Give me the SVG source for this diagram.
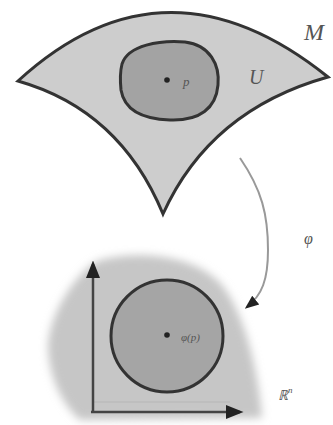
<svg xmlns="http://www.w3.org/2000/svg" width="333" height="425" viewBox="0 0 333 425">
<defs>
<filter id="blur" x="-20%" y="-20%" width="140%" height="140%"><feGaussianBlur stdDeviation="4"/></filter>
<marker id="ah" viewBox="0 0 10 10" refX="8" refY="5" markerWidth="7" markerHeight="7" orient="auto-start-reverse"><path d="M0,1 L10,5 L0,9 Z" fill="#222"/></marker>
</defs>
<style>
.lbl{font-family:"Liberation Serif","DejaVu Serif",serif;font-style:italic;fill:#555}
.edge{fill:none;stroke:#999;stroke-width:2}
.axis{fill:none;stroke:#444;stroke-width:2.5}
</style>
<rect width="333" height="425" fill="#fff"/>
<g id="manifold">
<path d="M18,81 Q165,-54 328,77 Q210,110 163,214 Q120,110 18,81 Z" fill="#cdcdcd" stroke="#333" stroke-width="3" stroke-linejoin="miter"/>
<path d="M122,64 C128,45 160,40 185,42 C210,45 220,65 218,85 C216,108 200,121 170,120 C140,119 124,108 121,90 C120,80 120,72 122,64 Z" fill="#a3a3a3" stroke="#333" stroke-width="3"/>
<circle cx="167" cy="80" r="2.8" fill="#222"/>
<text class="lbl" x="183" y="86" font-size="13">p</text>
<text class="lbl" x="249" y="84" font-size="20">U</text>
<text class="lbl" x="304" y="40" font-size="24" fill="#444">M</text>
</g>
<g id="chart">
<path d="M100,260 C140,250 195,255 222,285 C245,315 258,370 262,418 L80,420 C62,405 48,375 48,345 C50,310 80,268 100,260 Z" fill="#c6c6c6" filter="url(#blur)"/>
<circle cx="167" cy="336" r="56" fill="#a5a5a5" stroke="#333" stroke-width="3"/>
<circle cx="167" cy="335" r="2.8" fill="#222"/>
<text class="lbl" x="181" y="341" font-size="11">φ(p)</text>
<line x1="93" y1="402" x2="230" y2="402" stroke="#bbb" stroke-width="1.5"/>
<line class="axis" x1="93" y1="412" x2="93" y2="264" marker-end="url(#ah)"/>
<line class="axis" x1="91" y1="412" x2="240" y2="412" marker-end="url(#ah)"/>
<text class="lbl" x="278" y="400" font-size="14" font-style="normal">ℝ<tspan font-size="9" dy="-7">n</tspan></text>
</g>
<g id="connectors">
<path class="edge" d="M240,158 C262,190 268,215 268,250 C268,280 262,295 247,307" marker-end="url(#ah)"/>
<text class="lbl" x="304" y="244" font-size="16">φ</text>
</g>
</svg>
